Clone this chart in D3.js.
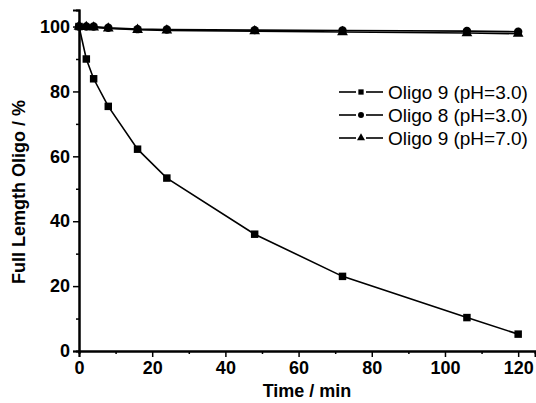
<!DOCTYPE html>
<html>
<head>
<meta charset="utf-8">
<script src="https://cdnjs.cloudflare.com/ajax/libs/d3/7.8.5/d3.min.js"></script>
<style>
  body { margin: 0; background: #fff; }
  svg text { font-family: "Liberation Sans", Arial, sans-serif; fill: #000; }
</style>
</head>
<body>
<script>
// data
const time = [0, 2, 4, 8, 16, 24, 48, 72, 106, 120];
const oligo9pH3 = [100, 90, 83.9, 75.4, 62.2, 53.3, 36, 23, 10.3, 5.2];
const oligo8pH3 = [100, 100, 100, 99.6, 99.2, 99.1, 98.9, 98.8, 98.6, 98.4];
const oligo9pH7 = [100, 99.9, 99.7, 99.4, 99.0, 98.8, 98.6, 98.3, 98.0, 97.8];
const seriesNames = ["Oligo 9 (pH=3.0)", "Oligo 8 (pH=3.0)", "Oligo 9 (pH=7.0)"];
const xTicks = [0, 20, 40, 60, 80, 100, 120];
const yTicks = [0, 20, 40, 60, 80, 100];

const w = 536, h = 403;

const svg = d3.select("body").append("svg")
  .attr("width", w)
  .attr("height", h);

const x = d3.scaleLinear().domain([0, 124.6]).range([79, 535]);
const y = d3.scaleLinear().domain([0, 105.1]).range([351, 10]);

// axes
const xAxis = svg.append("g")
  .attr("transform", "translate(0," + y(0) + ")")
  .call(d3.axisBottom(x).tickValues(xTicks).tickSize(6).tickPadding(4).tickFormat(d3.format("d")));
const xMinor = svg.append("g")
  .attr("transform", "translate(0," + y(0) + ")")
  .call(d3.axisBottom(x).tickValues(d3.range(10, 121, 20)).tickSize(3).tickFormat(""));
const yAxis = svg.append("g")
  .attr("transform", "translate(" + x(0) + ",0)")
  .call(d3.axisLeft(y).tickValues(yTicks).tickSize(6).tickPadding(3).tickFormat(d3.format("d")));
const yMinor = svg.append("g")
  .attr("transform", "translate(" + x(0) + ",0)")
  .call(d3.axisLeft(y).tickValues(d3.range(10, 101, 20)).tickSize(3).tickFormat(""));

[xAxis, xMinor, yAxis, yMinor].forEach(g => {
  g.select(".domain").attr("stroke", "#000").attr("stroke-width", 2);
  g.selectAll(".tick line").attr("stroke", "#000").attr("stroke-width", 1.5);
});
[xAxis, yAxis].forEach(g => {
  g.selectAll(".tick text")
    .style("font-size", "18px")
    .style("font-weight", "bold")
    .style("font-family", "'Liberation Sans', Arial, sans-serif");
});

svg.append("text")
  .attr("x", 307).attr("y", 397)
  .attr("text-anchor", "middle")
  .style("font-size", "18px").style("font-weight", "bold")
  .text("Time / min");

svg.append("text")
  .attr("transform", "translate(25,192) rotate(-90)")
  .attr("text-anchor", "middle")
  .style("font-size", "18px").style("font-weight", "bold")
  .text("Full Lemgth Oligo / %");

// series
const series = [oligo9pH3, oligo8pH3, oligo9pH7];
const symbols = [d3.symbolSquare, d3.symbolCircle, d3.symbolTriangle];
const line = d3.line().x((d, i) => x(time[i])).y(d => y(d));

const plot = svg.append("g");
series.forEach((vals, s) => {
  plot.append("path")
    .datum(vals)
    .attr("d", line)
    .attr("fill", "none")
    .attr("stroke", "#000")
    .attr("stroke-width", 1.6);
});
series.forEach((vals, s) => {
  plot.selectAll(null)
    .data(vals)
    .enter()
    .append("path")
    .attr("transform", (d, i) => "translate(" + x(time[i]) + "," + y(d) + ")")
    .attr("d", d3.symbol().type(symbols[s]).size(s === 2 ? 50 : 56))
    .attr("fill", "#000");
});

// legend
const legend = svg.append("g");
seriesNames.forEach((name, i) => {
  const ly = 92 + i * 23;
  [[339, 356], [366, 383]].forEach(seg => {
    legend.append("line")
      .attr("x1", seg[0]).attr("x2", seg[1])
      .attr("y1", ly).attr("y2", ly)
      .attr("stroke", "#000").attr("stroke-width", 1.6);
  });
  legend.append("path")
    .attr("transform", "translate(361," + ly + ")")
    .attr("d", d3.symbol().type(symbols[i]).size(28))
    .attr("fill", "#000");
  legend.append("text")
    .attr("x", 388).attr("y", ly)
    .attr("dy", "0.36em")
    .style("font-size", "19px")
    .text(name);
});
</script>
</body>
</html>
